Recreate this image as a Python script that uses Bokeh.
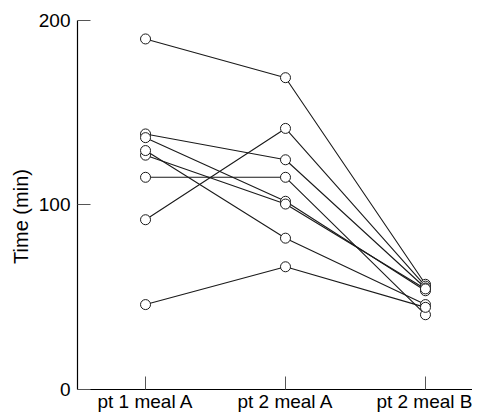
from bokeh.plotting import figure
from bokeh.embed import file_html
from bokeh.resources import INLINE
from bokeh.models import Range1d, FixedTicker

categories = ["pt 1 meal A", "pt 2 meal A", "pt 2 meal B"]
cat_pos = [1, 2, 3]
tick_values = [0, 100, 200]

s1 = [190, 169, 57]
s2 = [92, 141.5, 56]
s3 = [138.5, 124.5, 55]
s4 = [136.5, 102, 53.5]
s5 = [127, 100.5, 54.5]
s6 = [115, 115, 40.5]
s7 = [129.5, 82, 46]
s8 = [46, 66.5, 44.5]
subjects = [s1, s2, s3, s4, s5, s6, s7, s8]

FONT = "Liberation Sans"

p = figure(width=472, height=412, output_backend="svg", toolbar_location=None,
           x_range=Range1d(0.514, 3.336), y_range=Range1d(-12.5, 200),
           min_border_left=77, min_border_top=20, min_border_right=0,
           min_border_bottom=0)
p.outline_line_color = None
p.grid.visible = False
p.border_fill_color = "white"

xs = [cat_pos for _ in subjects]
p.multi_line(xs=xs, ys=subjects, line_color="#1a1a1a", line_width=1.1)
for s in subjects:
    p.scatter(x=cat_pos, y=s, marker="circle", size=10, fill_color="white",
              line_color="#1a1a1a", line_width=1)

p.xaxis.ticker = FixedTicker(ticks=cat_pos)
p.xaxis.major_label_overrides = {c: l for c, l in zip(cat_pos, categories)}
p.xaxis.fixed_location = 0
p.yaxis.ticker = FixedTicker(ticks=tick_values)
p.yaxis.bounds = (0, 200)

for ax in (p.xaxis, p.yaxis):
    ax.axis_line_color = "black"
    ax.axis_line_width = 1.2
    ax.major_tick_in = 13
    ax.major_tick_out = 0
    ax.major_tick_line_color = "#555555"
    ax.minor_tick_line_color = None
    ax.major_label_text_font = FONT
    ax.major_label_text_font_size = "19px"
    ax.major_label_text_color = "black"

p.xaxis.major_label_standoff = 2
p.yaxis.major_label_standoff = 7
p.yaxis.axis_label = "Time (min)"
p.yaxis.axis_label_text_font = FONT
p.yaxis.axis_label_text_font_size = "20px"
p.yaxis.axis_label_text_font_style = "normal"
p.yaxis.axis_label_text_color = "black"
p.yaxis.axis_label_standoff = 4

open("out.html", "w").write(file_html(p, INLINE))
